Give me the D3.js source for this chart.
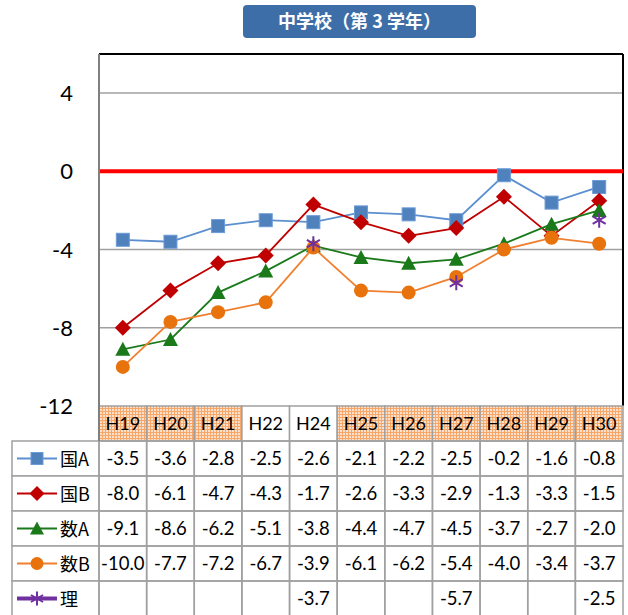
<!DOCTYPE html>
<html>
<head>
<meta charset="utf-8">
<script src="https://cdn.jsdelivr.net/npm/d3@7"></script>
<style>
  body { margin: 0; background: #fff; }
  svg text { font-family: Lato, "Noto Sans CJK JP", sans-serif; }
</style>
</head>
<body>
<svg id="chart" width="628" height="615"></svg>
<script>
// chart data
const years = ['H19', 'H20', 'H21', 'H22', 'H24', 'H25', 'H26', 'H27', 'H28', 'H29', 'H30'];
const shaded = ['H19', 'H20', 'H21', 'H25', 'H26', 'H27', 'H28', 'H29', 'H30'];
const kokugoA = [-3.5, -3.6, -2.8, -2.5, -2.6, -2.1, -2.2, -2.5, -0.2, -1.6, -0.8];
const kokugoB = [-8.0, -6.1, -4.7, -4.3, -1.7, -2.6, -3.3, -2.9, -1.3, -3.3, -1.5];
const sugakuA = [-9.1, -8.6, -6.2, -5.1, -3.8, -4.4, -4.7, -4.5, -3.7, -2.7, -2.0];
const sugakuB = [-10.0, -7.7, -7.2, -6.7, -3.9, -6.1, -6.2, -5.4, -4.0, -3.4, -3.7];
const rika = [null, null, null, null, -3.7, null, null, -5.7, null, null, -2.5];
const yTicks = [-12, -8, -4, 0, 4];

const series = [
  { name: '国A', values: kokugoA, color: '#4F81BD', line: '#5B8FD0', marker: 'square', lineOn: true },
  { name: '国B', values: kokugoB, color: '#C00000', line: '#C00000', marker: 'diamond', lineOn: true },
  { name: '数A', values: sugakuA, color: '#1A7A1A', line: '#1A7A1A', marker: 'triangle', lineOn: true },
  { name: '数B', values: sugakuB, color: '#E8720C', line: '#F08030', marker: 'circle', lineOn: true },
  { name: '理', values: rika, color: '#7030A0', line: '#7030A0', marker: 'asterisk', lineOn: false }
];

const svg = d3.select('#chart');
const plotL = 99, plotR = 623, plotT = 54, plotB = 406;
const rowH = 35, tableL = 12;

const x = d3.scaleBand().domain(years).range([plotL, plotR]);
const y = d3.scaleLinear().domain([-12, 6]).range([plotB, plotT]);

// pattern for shaded header cells
const defs = svg.append('defs');
const pat = defs.append('pattern')
  .attr('id', 'hatch').attr('width', 3).attr('height', 3)
  .attr('patternUnits', 'userSpaceOnUse');
pat.append('rect').attr('width', 3).attr('height', 3).attr('fill', '#FCE0CB');
pat.append('path').attr('d', 'M0,0.5H3M0.5,0V3').attr('stroke', '#F6A76A').attr('stroke-width', 1);

// title
svg.append('rect')
  .attr('x', 243).attr('y', 5).attr('width', 233).attr('height', 33)
  .attr('rx', 4).attr('fill', '#3E6EA8');
svg.append('text')
  .attr('x', 359.5).attr('y', 28)
  .attr('text-anchor', 'middle')
  .style('font-family', '"Noto Sans CJK JP", sans-serif')
  .style('font-weight', 'bold')
  .style('font-size', '18px')
  .attr('fill', '#fff')
  .text('中学校（第 3 学年）');

// gridlines
svg.selectAll('.grid')
  .data([-8, -4, 4])
  .enter().append('line')
  .attr('x1', plotL).attr('x2', plotR)
  .attr('y1', d => y(d)).attr('y2', d => y(d))
  .attr('stroke', '#A0A0A0').attr('stroke-width', 1.5);

// plot frame
svg.append('line').attr('x1', plotL).attr('x2', plotR).attr('y1', plotT).attr('y2', plotT)
  .attr('stroke', '#000').attr('stroke-width', 2);
svg.append('line').attr('x1', plotR).attr('x2', plotR).attr('y1', plotT).attr('y2', plotB)
  .attr('stroke', '#000').attr('stroke-width', 2);

// zero line
svg.append('line')
  .attr('x1', plotL).attr('x2', plotR)
  .attr('y1', y(0)).attr('y2', y(0))
  .attr('stroke', '#FF0000').attr('stroke-width', 4);

// y labels
svg.selectAll('.ylab')
  .data(yTicks)
  .enter().append('text')
  .attr('x', 73).attr('y', d => y(d) + 8)
  .attr('text-anchor', 'end')
  .style('font-size', '22px')
  .attr('fill', '#000')
  .text(d => d);

// marker drawing
function drawMarker(g, type, color, size) {
  const s = size;
  if (type === 'square') {
    g.append('rect').attr('x', -s / 2).attr('y', -s / 2).attr('width', s).attr('height', s)
      .attr('fill', color).attr('stroke', '#6C9BD6').attr('stroke-width', 1);
  } else if (type === 'diamond') {
    const r = s / 2 + 1.5;
    g.append('path').attr('d', `M0,${-r}L${r},0L0,${r}L${-r},0Z`)
      .attr('fill', color);
  } else if (type === 'triangle') {
    const h = s;
    g.append('path').attr('d', `M0,${-h / 2 - 1}L${h / 2 + 1},${h / 2}L${-h / 2 - 1},${h / 2}Z`)
      .attr('fill', color);
  } else if (type === 'circle') {
    g.append('circle').attr('r', s / 2 + 0.5).attr('fill', color);
  } else if (type === 'asterisk') {
    const r = s / 2 + 1;
    const p = [];
    for (let a = 0; a < 180; a += 60) {
      const rad = (a + 90) * Math.PI / 180;
      p.push(`M${-r * Math.cos(rad)},${-r * Math.sin(rad)}L${r * Math.cos(rad)},${r * Math.sin(rad)}`);
    }
    g.append('path').attr('d', p.join('')).attr('stroke', color).attr('stroke-width', 2).attr('fill', 'none');
  }
}

// series lines
const cx = d => x(d) + x.bandwidth() / 2;
series.forEach(s => {
  if (s.lineOn) {
    const line = d3.line()
      .defined(d => d.v !== null)
      .x(d => cx(d.year))
      .y(d => y(d.v));
    svg.append('path')
      .datum(years.map((yr, i) => ({ year: yr, v: s.values[i] })))
      .attr('d', line)
      .attr('fill', 'none')
      .attr('stroke', s.line)
      .attr('stroke-width', 1.8);
  }
});
series.forEach(s => {
  years.forEach((yr, i) => {
    const v = s.values[i];
    if (v === null) return;
    const g = svg.append('g').attr('transform', `translate(${cx(yr)},${y(v)})`);
    drawMarker(g, s.marker, s.color, 13);
  });
});

// table header
const gridColor = '#A0A0A0';
svg.selectAll('.hcell')
  .data(years)
  .enter().append('rect')
  .attr('x', d => x(d)).attr('y', plotB)
  .attr('width', x.bandwidth()).attr('height', rowH)
  .attr('fill', d => shaded.includes(d) ? 'url(#hatch)' : '#fff')
  .attr('stroke', gridColor).attr('stroke-width', 1.5);
svg.selectAll('.htext')
  .data(years)
  .enter().append('text')
  .attr('x', d => cx(d)).attr('y', plotB + 24)
  .attr('text-anchor', 'middle')
  .style('font-size', '18px')
  .attr('fill', '#000')
  .text(d => d);

// table rows
series.forEach((s, r) => {
  const ry = plotB + rowH * (r + 1);
  svg.append('rect')
    .attr('x', tableL).attr('y', ry)
    .attr('width', plotL - tableL).attr('height', rowH)
    .attr('fill', '#fff').attr('stroke', gridColor).attr('stroke-width', 1.5);
  years.forEach((yr, i) => {
    svg.append('rect')
      .attr('x', x(yr)).attr('y', ry)
      .attr('width', x.bandwidth()).attr('height', rowH)
      .attr('fill', 'none').attr('stroke', gridColor).attr('stroke-width', 1.5);
    const v = s.values[i];
    if (v !== null) {
      svg.append('text')
        .attr('x', cx(yr)).attr('y', ry + 24)
        .attr('text-anchor', 'middle')
        .style('font-size', '18.5px')
        .attr('fill', '#000')
        .text(v.toFixed(1));
    }
  });
  // legend key
  const ly = ry + rowH / 2;
  svg.append('line')
    .attr('x1', 17).attr('x2', 57).attr('y1', ly).attr('y2', ly)
    .attr('stroke', s.line).attr('stroke-width', s.lineOn ? 1.8 : 4);
  const g = svg.append('g').attr('transform', `translate(37,${ly})`);
  drawMarker(g, s.marker, s.color, 12);
  svg.append('text')
    .attr('x', 60).attr('y', ry + 25)
    .style('font-family', '"Noto Sans CJK JP", sans-serif')
    .style('font-size', '18px')
    .attr('fill', '#000')
    .text(s.name);
});

// left axis line
svg.append('line').attr('x1', plotL).attr('x2', plotL).attr('y1', plotT).attr('y2', plotB + rowH)
  .attr('stroke', '#808080').attr('stroke-width', 2);
</script>
</body>
</html>
